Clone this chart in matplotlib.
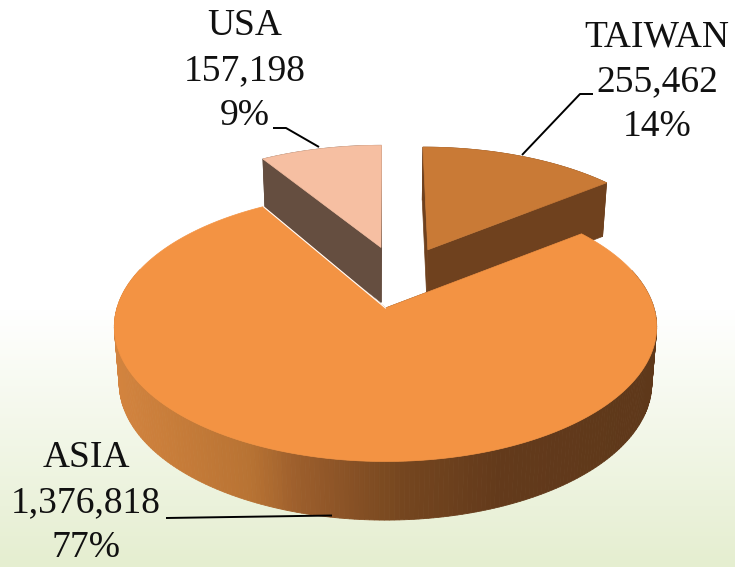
import numpy as np
import matplotlib
matplotlib.use('Agg')
import matplotlib.pyplot as plt
from matplotlib.colors import LinearSegmentedColormap
from matplotlib.patches import Polygon

# Data
names = ['TAIWAN', 'ASIA', 'USA']
values = [255462, 1376818, 157198]

# Projection of the pie plane on to the picture (pixels)
cx, cy = 385.5, 308
rx, ry = 268.5, 132
persp = 0.14
depth = 56
shrink = 0.982

# Explode offsets in pie units
offsets = {'TAIWAN': (0.168, 0.47), 'ASIA': (0, 0), 'USA': (-0.018, 0.49)}
turn = {'TAIWAN': 0.0, 'ASIA': np.radians(1.0), 'USA': 0.0}
top_colors = {'TAIWAN': '#c97a36', 'ASIA': '#f39343', 'USA': '#f6bfa2'}
face_colors = {'TAIWAN': '#6f411e', 'ASIA': '#63391a', 'USA': '#654e40'}
label_pos = {'TAIWAN': (657, 82), 'ASIA': (86, 503), 'USA': (245, 71)}
leaders = {
    'TAIWAN': ([522, 580, 593], [155, 94, 94]),
    'ASIA': ([166, 332], [518, 515.5]),
    'USA': ([273, 286, 319], [128, 128, 147]),
}


def project(u, v, lower=False):
    s = 1 / (1 + persp * v)
    x = rx * u * s
    y = -ry * v * s
    if lower:
        return cx + x * shrink, cy + y + depth * s ** 0.3
    return cx + x, cy + y


def outline(name, a0, a1):
    # clockwise angle from 12 o'clock, in radians
    u0, v0 = offsets[name]
    t = np.linspace(a0, a1, 300)
    return u0 + np.sin(t), v0 + np.cos(t)


def draw_face(ax, ua, va, color, zorder):
    x0, y0 = project(ua, va)
    x1, y1 = project(ua, va, lower=True)
    pts = np.c_[np.r_[x0, x1[::-1]], np.r_[y0, y1[::-1]]]
    ax.add_patch(Polygon(pts, closed=True, fc=color, ec=color, lw=0.5, zorder=zorder))


fig = plt.figure(figsize=(7.35, 5.67), dpi=100)
ax = fig.add_axes([0, 0, 1, 1])
ax.set_xlim(0, 735)
ax.set_ylim(567, 0)
ax.axis('off')

# Background gradient
bg = LinearSegmentedColormap.from_list('bg', ['#ffffff', '#ffffff', '#e5eed0'])
grad = np.clip((np.linspace(0, 567, 567) - 100) / 467, 0, 1).reshape(-1, 1)
grad = np.where(grad < 0.45, 0.5 * grad / 0.45, 0.5 + 0.5 * (grad - 0.45) / 0.55)
ax.imshow(grad, cmap=bg, vmin=0, vmax=1, extent=(0, 735, 567, 0), aspect='auto', zorder=0)

wall = LinearSegmentedColormap.from_list(
    'wall', [(0, '#d3843f'), (0.25, '#b87333'), (0.34, '#9c5e2c'),
             (0.53, '#75461f'), (0.71, '#633a1b'), (1, '#5e381a')])

total = sum(values)
angles = np.cumsum([0] + values) / total * 2 * np.pi

zorders = {'USA': 2, 'TAIWAN': 2, 'ASIA': 5}
for i, name in enumerate(names):
    a0, a1 = angles[i] + turn[name], angles[i + 1] + turn[name]
    u0, v0 = offsets[name]
    z = zorders[name]

    # radial faces
    for a in (a0, a1):
        s = np.linspace(0, 1, 2)
        draw_face(ax, u0 + s * np.sin(a), v0 + s * np.cos(a), face_colors[name], z)

    # outer wall
    u, v = outline(name, a0, a1)
    if name == 'ASIA':
        xt, yt = project(u, v)
        xb, yb = project(u, v, lower=True)
        order = np.argsort(v[:-1])[::-1]
        for j in order:
            if v[j] > 0.3:
                continue
            c = wall(((xt[j] + xt[j + 1]) / 2 - 113) / 545)
            quad = [(xt[j], yt[j]), (xt[j + 1], yt[j + 1]), (xb[j + 1], yb[j + 1]), (xb[j], yb[j])]
            ax.add_patch(Polygon(quad, closed=True, fc=c, ec=c, lw=0.6, zorder=z))
    else:
        draw_face(ax, u, v, face_colors[name], z)

    # top of the slice
    xt, yt = project(np.r_[u0, u], np.r_[v0, v])
    ax.add_patch(Polygon(np.c_[xt, yt], closed=True, fc=top_colors[name],
                         ec=top_colors[name], lw=0.5, zorder=z + 1))

    if name == 'ASIA':
        # thin light edge along the cut next to USA
        ax.plot(xt[[0, -1]], yt[[0, -1]], color='white', lw=0.8, zorder=z + 1)

    # label and leader
    pct = round(values[i] / total * 100)
    ax.text(label_pos[name][0], label_pos[name][1], f'{name}\n{values[i]:,}\n{pct}%',
            family='Liberation Serif', fontsize=27, color='#111111',
            ha='center', va='center', linespacing=1.39, zorder=10)
    ax.plot(leaders[name][0], leaders[name][1], color='black', lw=1.4, zorder=9,
            solid_capstyle='butt')

fig.savefig('out.png', dpi=100)
